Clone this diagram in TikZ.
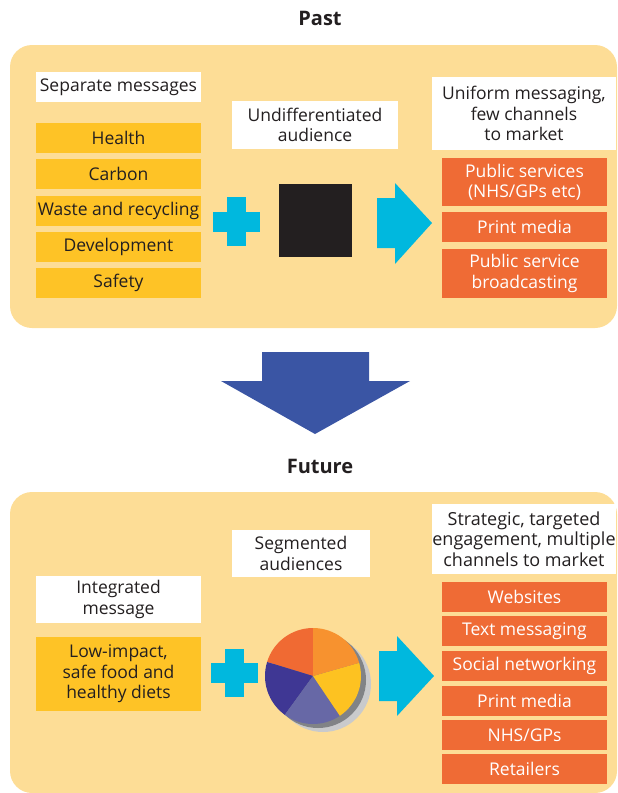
\documentclass[tikz,border=0pt]{standalone}
\usepackage{fontspec}
\setmainfont{Open Sans}
\definecolor{panelc}{HTML}{FDDD96}
\definecolor{yboxc}{HTML}{FEC326}
\definecolor{oboxc}{HTML}{EF6B35}
\definecolor{cyanc}{HTML}{00B8DE}
\definecolor{txtc}{HTML}{231F20}
\definecolor{bigarrowc}{HTML}{3A55A4}
\definecolor{pieA}{HTML}{F06A33}
\definecolor{pieB}{HTML}{3F3794}
\definecolor{pieC}{HTML}{6768A6}
\definecolor{pieD}{HTML}{FDC221}
\definecolor{pieE}{HTML}{F7922F}
\definecolor{shadA}{HTML}{C9CACC}
\definecolor{shadB}{HTML}{818386}
\begin{document}
\begin{tikzpicture}[x=1pt,y=-1pt,
  box/.style={inner sep=0pt, align=center, font=\fontsize{17.5}{20.5}\selectfont, text=txtc},
  wbox/.style={box, fill=white},
  ybox/.style={box, fill=yboxc, minimum width=165, minimum height=30},
  obox/.style={box, fill=oboxc, text=white, minimum width=165, minimum height=30},
  title/.style={font=\fontsize{20}{24}\selectfont\bfseries, text=txtc},
  plusc/.style={fill=cyanc},
  arrowc/.style={fill=cyanc}
]
\useasboundingbox (0,0) rectangle (618,793);
\begin{scope}
  \clip (0,0) rectangle (618,793);
  \fill[panelc, rounded corners=22] (10,45) rectangle (617,328);
  \fill[panelc, rounded corners=22] (10,492) rectangle (617,793);
\end{scope}

% titles
\node[title] (past) at (320,18) {Past};
\node[title] (future) at (320,466) {Future};

% ---------- Past ----------
\node[wbox, minimum width=165, minimum height=30] (sep) at (118.5,87) {Separate messages};
\node[ybox] (health) at (118.5,138) {Health};
\node[ybox] (carbon) at (118.5,174) {Carbon};
\node[ybox] (waste) at (118.5,210.5) {Waste and recycling};
\node[ybox] (dev) at (118.5,246.5) {Development};
\node[ybox] (safety) at (118.5,283) {Safety};

\fill[plusc] (227,197) rectangle (246,246);
\fill[plusc] (213,212) rectangle (260,232);

\node[wbox, minimum width=166, minimum height=48] (und) at (315,125) {Undifferentiated\\audience};
\node[fill=txtc, minimum width=73, minimum height=73, inner sep=0pt] (black) at (315.5,220.5) {};

\fill[arrowc] (377,198) -- (395,198) -- (395,183) -- (432,223) -- (395,264) -- (395,248) -- (377,248) -- cycle;

\node[wbox, minimum width=184, minimum height=73] (uni) at (524,113.5) {Uniform messaging,\\few channels\\to market};
\node[obox, minimum height=48] (pubs) at (524.5,182) {Public services\\(NHS/GPs etc)};
\node[obox] (print1) at (524.5,227) {Print media};
\node[obox, minimum height=49] (psb) at (524.5,273.5) {Public service\\broadcasting};

% big down arrow
\fill[bigarrowc] (262,352) -- (369,352) -- (369,381) -- (410,381) -- (315,434) -- (221,381) -- (262,381) -- cycle;

% ---------- Future ----------
\node[wbox, minimum width=138, minimum height=47] (seg) at (301,553.5) {Segmented\\audiences};
\node[wbox, minimum width=184, minimum height=70, font=\fontsize{18}{20.5}\selectfont] (strat) at (524,539) {Strategic, targeted\\engagement, multiple\\channels to market};
\node[wbox, minimum width=165, minimum height=47] (integ) at (118.5,599.5) {Integrated\\message};
\node[ybox, minimum height=74] (low) at (118.5,674) {Low-impact,\\safe food and\\healthy diets};

\fill[plusc] (225,649) rectangle (244,697);
\fill[plusc] (211,663) rectangle (258,683);

% pie chart
\begin{scope}[shift={(313,676)}, y=1pt]
  \fill[shadA] (10,-8) circle[radius=48];
  \fill[shadB] (5,-4) circle[radius=48];
  \fill[pieA] (0,0) -- (90:48) arc[start angle=90, end angle=163, radius=48] -- cycle;
  \fill[pieB] (0,0) -- (163:48) arc[start angle=163, end angle=234, radius=48] -- cycle;
  \fill[pieC] (0,0) -- (234:48) arc[start angle=234, end angle=304, radius=48] -- cycle;
  \fill[pieD] (0,0) -- (304:48) arc[start angle=304, end angle=376, radius=48] -- cycle;
  \fill[pieE] (0,0) -- (16:48) arc[start angle=16, end angle=90, radius=48] -- cycle;
\end{scope}
\coordinate (pie) at (313,676);

\fill[arrowc] (379,651) -- (397,651) -- (397,636) -- (434,676) -- (397,716) -- (397,701) -- (379,701) -- cycle;

\node[obox] (web) at (524.5,597) {Websites};
\node[obox] (text) at (524.5,631) {Text messaging};
\node[obox] (social) at (524.5,666) {Social networking};
\node[obox] (print2) at (524.5,700.5) {Print media};
\node[obox] (nhs) at (524.5,735) {NHS/GPs};
\node[obox] (ret) at (524.5,769) {Retailers};
\end{tikzpicture}
\end{document}
